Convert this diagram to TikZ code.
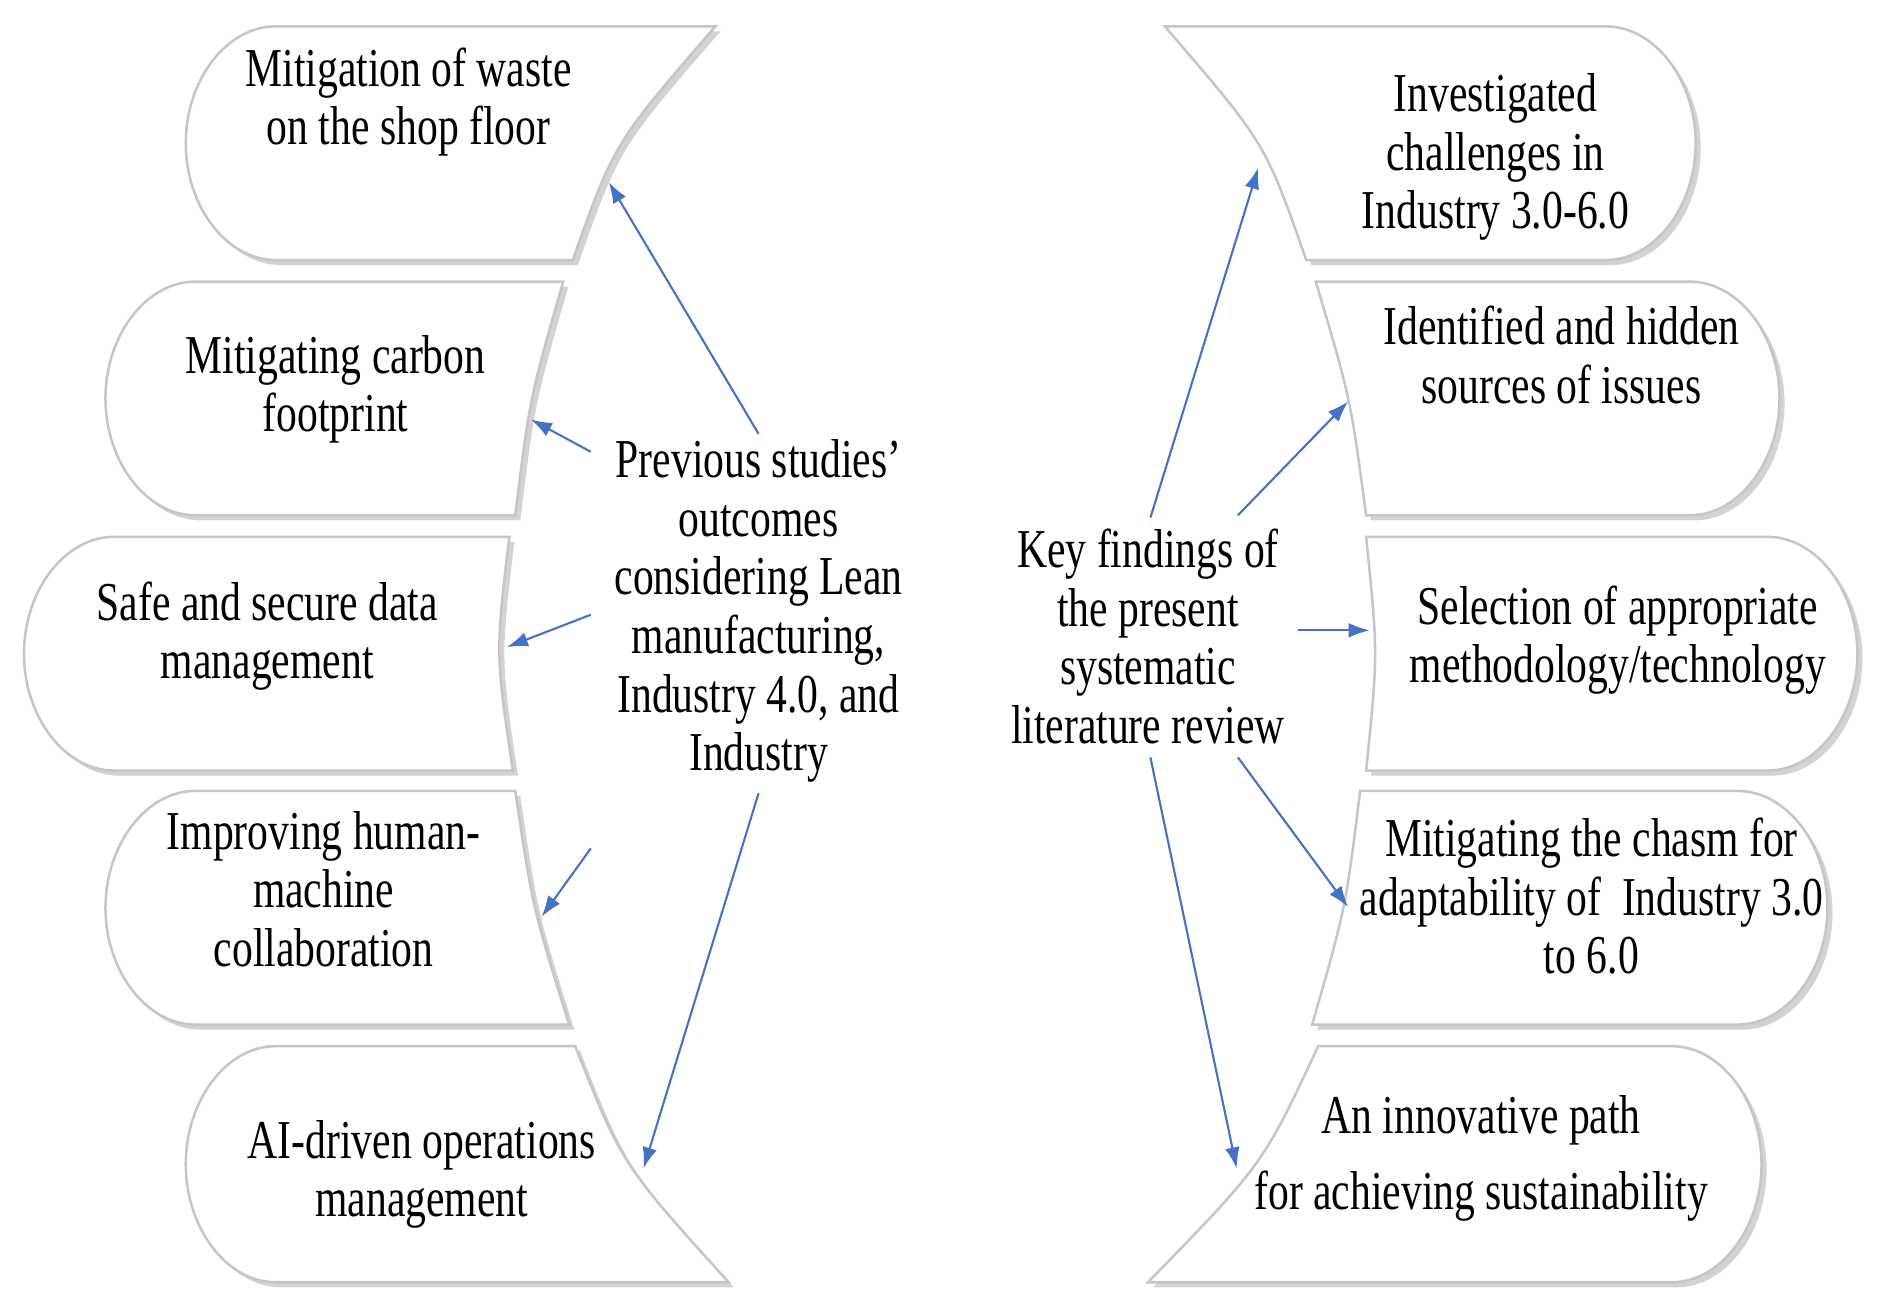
\documentclass[tikz,border=0pt]{standalone}
\usepackage{fontspec}
\setmainfont{Liberation Serif}[FakeStretch=0.76]
\usetikzlibrary{shadows,arrows.meta}
\definecolor{arrowblue}{RGB}{68,114,196}

\begin{document}
\begin{tikzpicture}[x=0.01cm,y=-0.01cm,
  box/.style={draw=gray!45, fill=white, line width=0.6pt,
    drop shadow={shadow xshift=1.2pt, shadow yshift=-1.2pt, opacity=0.35}},
  txt/.style={align=center, font=\fontsize{13}{13.9}\selectfont, inner sep=0pt},
  line/.style={draw=arrowblue, line width=0.5pt, -{Latex[length=5pt,width=3.5pt]}}]
\useasboundingbox (0,0) rectangle (1568,1093);

% left boxes: outer x, top, bottom, inner top x, inner bottom x, bulge
\foreach \xl/\yt/\yb/\xt/\xb/\bl in {155/22/217/597/478/-25, 88/235/430/470/430/-8,
  20/448/643/425/428/-13, 88/660/855/430/475/-8, 155/873/1070/480/608/-25}
  \path[box] (\xl+75,\yt) -- (\xt,\yt)
    .. controls ({(\xt+\xb)/2+\bl},{(\yt+\yb)/2}) .. (\xb,\yb)
    -- (\xl+75,\yb)
    .. controls (\xl+34,\yb) and (\xl,{(\yt+\yb)/2+0.27*(\yb-\yt)}) .. (\xl,{(\yt+\yb)/2})
    .. controls (\xl,{(\yt+\yb)/2-0.27*(\yb-\yt)}) and (\xl+34,\yt) .. cycle;

% right boxes
\foreach \xr/\yt/\yb/\xt/\xb/\bl in {1415/22/217/972/1090/25, 1485/235/430/1098/1140/8,
  1550/448/643/1140/1140/10, 1525/660/855/1135/1095/8, 1470/873/1070/1100/958/25}
  \path[box] (\xr-75,\yt) -- (\xt,\yt)
    .. controls ({(\xt+\xb)/2+\bl},{(\yt+\yb)/2}) .. (\xb,\yb)
    -- (\xr-75,\yb)
    .. controls (\xr-34,\yb) and (\xr,{(\yt+\yb)/2+0.27*(\yb-\yt)}) .. (\xr,{(\yt+\yb)/2})
    .. controls (\xr,{(\yt+\yb)/2-0.27*(\yb-\yt)}) and (\xr-34,\yt) .. cycle;

% texts
\node[txt] (waste) at (341,85) {Mitigation of waste\\on the shop floor};
\node[txt] (carbon) at (280,325) {Mitigating carbon\\footprint};
\node[txt] (data) at (223,531) {Safe and secure data\\management};
\node[txt] (human) at (270,742) {Improving human-\\machine\\collaboration};
\node[txt] (ai) at (352,980) {AI-driven operations\\management};
\node[txt] (prev) at (633,510) {Previous studies'\\outcomes\\considering Lean\\manufacturing,\\Industry 4.0, and\\Industry};
\node[txt] (key) at (958,531) {Key findings of\\the present\\systematic\\literature review};
\node[txt] (chall) at (1248,131) {Investigated\\challenges in\\Industry 3.0-6.0};
\node[txt] (issues) at (1303,296) {Identified and hidden\\sources of issues};
\node[txt] (select) at (1350,534) {Selection of appropriate\\methodology/technology};
\node[txt] (chasm) at (1328,748) {Mitigating the chasm for\\adaptability of\ \ Industry 3.0\\to 6.0};
\node[txt, font=\fontsize{13}{18}\selectfont] (path) at (1236,967) {An innovative path\\for achieving sustainability};

% arrow ends
\coordinate (pA) at (633,362); \coordinate (eA) at (508,152);
\coordinate (pB) at (493,377); \coordinate (eB) at (443,350);
\coordinate (pC) at (493,513); \coordinate (eC) at (423,540);
\coordinate (pD) at (493,708); \coordinate (eD) at (452,765);
\coordinate (pE) at (633,662); \coordinate (eE) at (537,975);
\coordinate (kA) at (960,432); \coordinate (fA) at (1050,140);
\coordinate (kB) at (1033,430); \coordinate (fB) at (1125,335);
\coordinate (kC) at (1083,526); \coordinate (fC) at (1143,526);
\coordinate (kD) at (1033,632); \coordinate (fD) at (1125,757);
\coordinate (kE) at (960,632); \coordinate (fE) at (1032,975);

\foreach \a/\b in {pA/eA,pB/eB,pC/eC,pD/eD,pE/eE,kA/fA,kB/fB,kC/fC,kD/fD,kE/fE}
  \draw[line] (\a) -- (\b);
\end{tikzpicture}
\end{document}
